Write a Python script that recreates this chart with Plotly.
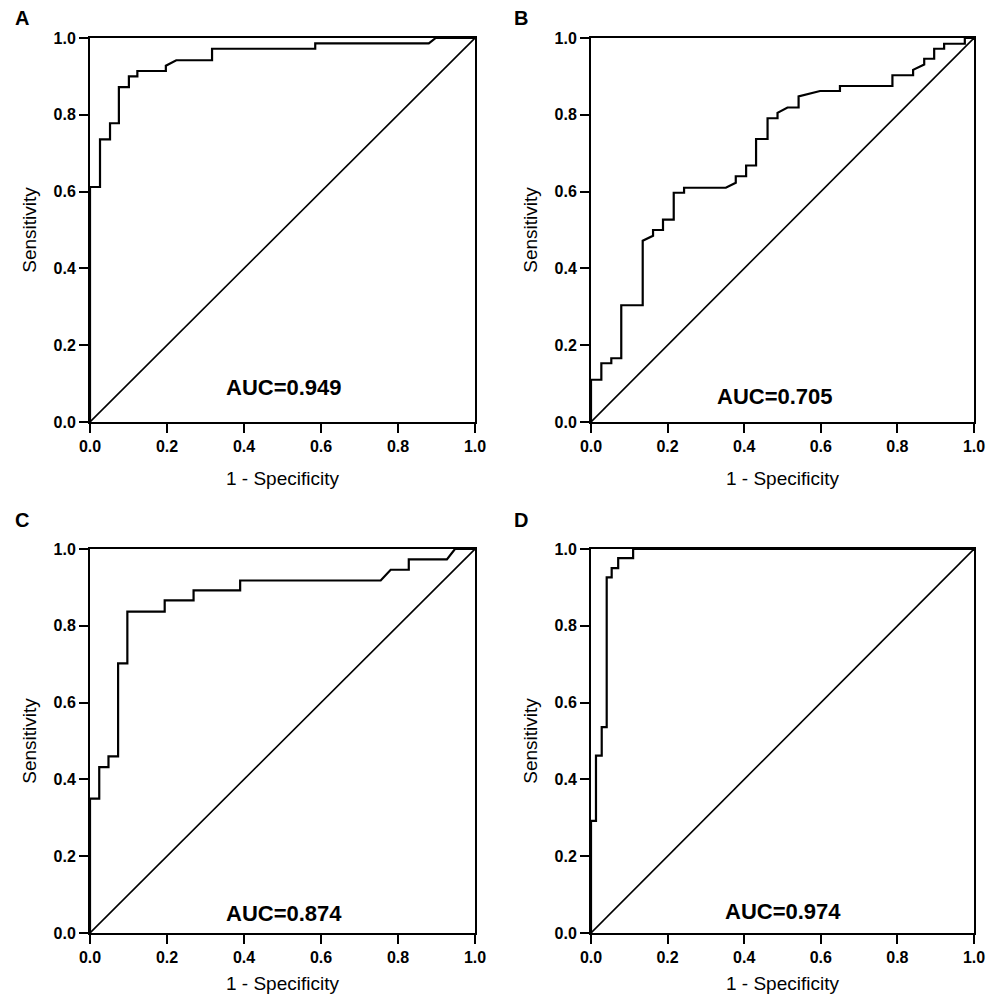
import plotly.graph_objects as go

# ---- data (vertices of the ROC step curves) ----
fpr_a = [0, 0, 0.026, 0.026, 0.052, 0.052, 0.075, 0.075, 0.101, 0.101, 0.123, 0.123,
         0.197, 0.197, 0.224, 0.317, 0.317, 0.585, 0.585, 0.88, 0.898, 1.0]
sens_a = [0, 0.612, 0.612, 0.736, 0.736, 0.778, 0.778, 0.872, 0.872, 0.9, 0.9, 0.914,
          0.914, 0.928, 0.942, 0.942, 0.972, 0.972, 0.986, 0.986, 1.0, 1.0]

fpr_b = [0, 0, 0.027, 0.027, 0.053, 0.053, 0.079, 0.079, 0.135, 0.135,
         0.162, 0.162, 0.188, 0.188, 0.216, 0.216, 0.243, 0.243, 0.352, 0.378,
         0.378, 0.405, 0.405, 0.431, 0.431, 0.461, 0.461, 0.487, 0.487, 0.513,
         0.542, 0.542, 0.598, 0.650, 0.650, 0.787, 0.787, 0.841, 0.841, 0.870,
         0.870, 0.896, 0.896, 0.922, 0.922, 0.976, 0.976, 1.0]
sens_b = [0, 0.110, 0.110, 0.153, 0.153, 0.166, 0.166, 0.304, 0.304, 0.472,
          0.485, 0.5, 0.5, 0.527, 0.527, 0.597, 0.597, 0.610, 0.610, 0.623,
          0.640, 0.640, 0.668, 0.668, 0.737, 0.737, 0.791, 0.791, 0.805, 0.819,
          0.819, 0.848, 0.862, 0.862, 0.875, 0.875, 0.903, 0.903, 0.917, 0.931,
          0.946, 0.946, 0.972, 0.972, 0.985, 0.985, 1.0, 1.0]

fpr_c = [0, 0, 0.024, 0.024, 0.048, 0.048, 0.073, 0.073, 0.097, 0.097, 0.194, 0.194,
         0.269, 0.269, 0.390, 0.390, 0.755, 0.781, 0.828, 0.828, 0.927, 0.948, 1.0]
sens_c = [0, 0.35, 0.35, 0.432, 0.432, 0.46, 0.46, 0.702, 0.702, 0.837, 0.837, 0.866,
          0.866, 0.892, 0.892, 0.918, 0.918, 0.946, 0.946, 0.973, 0.973, 1.0, 1.0]

fpr_d = [0, 0, 0.013, 0.013, 0.028, 0.028, 0.041, 0.041, 0.054, 0.054, 0.071, 0.071,
         0.110, 0.110, 1.0]
sens_d = [0, 0.292, 0.292, 0.462, 0.462, 0.536, 0.536, 0.926, 0.926, 0.95, 0.95, 0.976,
          0.976, 1.0, 1.0]

panel_labels = ["A", "B", "C", "D"]
auc_labels = ["AUC=0.949", "AUC=0.705", "AUC=0.874", "AUC=0.974"]
auc_pos = [(0.505, 0.09), (0.48, 0.066), (0.505, 0.052), (0.50, 0.055)]
tick_vals = [0, 0.2, 0.4, 0.6, 0.8, 1.0]
x_title = "1 - Specificity"
y_title = "Sensitivity"

curves = [(fpr_a, sens_a), (fpr_b, sens_b), (fpr_c, sens_c), (fpr_d, sens_d)]

# page body has an 8px margin; positions below are window pixels minus that offset
OFF = 8
W, H = 987, 986
xdoms = [[(90 - OFF) / W, (475 - OFF) / W], [(591 - OFF) / W, (974 - OFF) / W]]
ydoms = [[1 - (422 - OFF) / H, 1 - (38 - OFF) / H], [1 - (933 - OFF) / H, 1 - (549 - OFF) / H]]

FONT = "Liberation Sans, Arial, sans-serif"

fig = go.Figure()
layout = dict(
    width=W, height=H, margin=dict(l=0, r=0, t=0, b=0, autoexpand=False),
    paper_bgcolor="white", plot_bgcolor="white", showlegend=False,
    font=dict(family=FONT, color="black"),
)
annotations = []
for i, (fx, sy) in enumerate(curves):
    row, col = divmod(i, 2)
    xa = "x" if i == 0 else f"x{i+1}"
    ya = "y" if i == 0 else f"y{i+1}"
    xkey = "xaxis" if i == 0 else f"xaxis{i+1}"
    ykey = "yaxis" if i == 0 else f"yaxis{i+1}"
    fig.add_trace(go.Scatter(x=[0, 1], y=[0, 1], mode="lines", xaxis=xa, yaxis=ya,
                             line=dict(color="black", width=1.6), hoverinfo="skip"))
    fig.add_trace(go.Scatter(x=fx, y=sy, mode="lines", xaxis=xa, yaxis=ya,
                             line=dict(color="black", width=2.2)))
    axcommon = dict(range=[0, 1], tickvals=tick_vals, tickformat=".1f",
                    showline=True, linecolor="black", linewidth=2, mirror=True,
                    ticks="outside", ticklen=9, tickwidth=2, tickcolor="black",
                    showgrid=False, zeroline=False, automargin=False,
                    tickfont=dict(family=FONT, size=16, color="black", weight="bold"))
    layout[xkey] = dict(axcommon, domain=xdoms[col], anchor=ya,
                        title=dict(text=x_title, standoff=17,
                                   font=dict(family=FONT, size=19, color="black")))
    layout[ykey] = dict(axcommon, domain=ydoms[row], anchor=xa,
                        title=dict(text=y_title, standoff=12,
                                   font=dict(family=FONT, size=19, color="black")))
    ax, ay = auc_pos[i]
    annotations.append(dict(text=auc_labels[i], xref=f"{xa} domain", yref=f"{ya} domain",
                            x=ax, y=ay, showarrow=False, xanchor="center", yanchor="middle",
                            font=dict(family=FONT, size=22, color="black", weight="bold")))
    px = ((22 if col == 0 else 521) - OFF) / W
    py = 1 - (((18 if row == 0 else 520) - OFF) / H)
    annotations.append(dict(text=panel_labels[i], xref="paper", yref="paper",
                            x=px, y=py, showarrow=False, xanchor="center", yanchor="middle",
                            font=dict(family=FONT, size=20, color="black", weight="bold")))

layout["annotations"] = annotations
fig.update_layout(**layout)
fig.write_html("out.html")
